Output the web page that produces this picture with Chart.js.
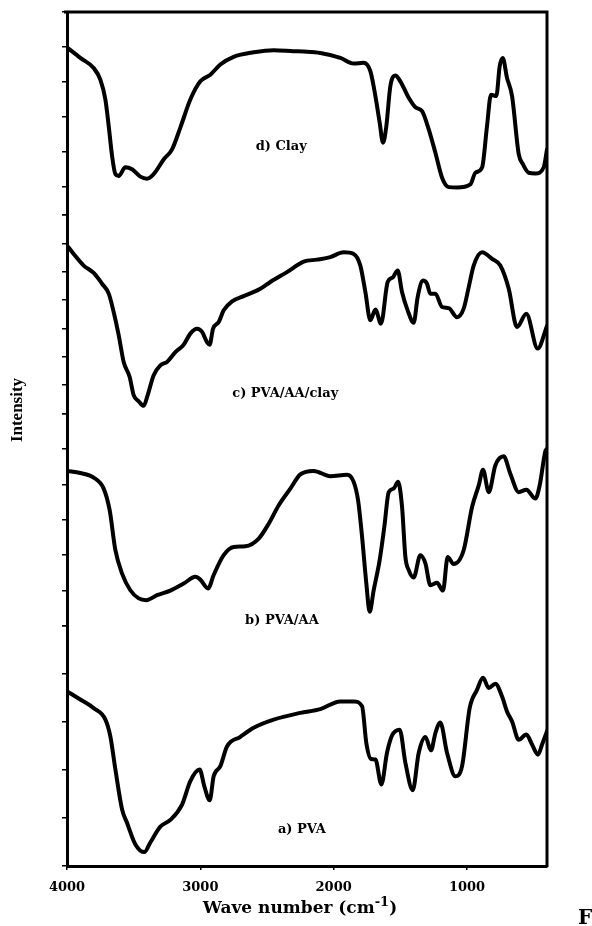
<!DOCTYPE html>
<html>
<head>
<meta charset="utf-8">
<title>FTIR spectra</title>
<script src="https://cdn.jsdelivr.net/npm/chart.js@4.4.1/dist/chart.umd.min.js"></script>
<style>
  html, body { margin: 0; padding: 0; background: #fff; }
  canvas { display: block; }
</style>
</head>
<body>
<canvas id="ftir" width="592" height="926"></canvas>
<script>
// Wavenumber axis ticks (cm-1)
const waveTicks = [4000, 3000, 2000, 1000];

// d) Clay
const clayWave  = [4000, 3900, 3800, 3750, 3712, 3687, 3662, 3637, 3612, 3562, 3512, 3450, 3400, 3350, 3275, 3212, 3150, 3075, 3000, 2925, 2850, 2750, 2600, 2450, 2300, 2225, 2100, 1950, 1850, 1775, 1725, 1687, 1655, 1630, 1605, 1575, 1537, 1500, 1437, 1387, 1337, 1287, 1237, 1187, 1137, 1075, 975, 937, 887, 850, 820, 780, 755, 732, 700, 662, 612, 580, 537, 487, 425, 400];
const clayLevel = [4.99, 4.69, 4.40, 4.07, 3.50, 2.74, 1.89, 1.37, 1.32, 1.57, 1.51, 1.30, 1.24, 1.37, 1.79, 2.08, 2.70, 3.50, 4.02, 4.21, 4.50, 4.72, 4.85, 4.91, 4.88, 4.87, 4.83, 4.69, 4.53, 4.55, 4.31, 3.60, 2.84, 2.27, 2.74, 3.88, 4.19, 4.02, 3.55, 3.28, 3.17, 2.65, 1.98, 1.27, 1.00, 0.99, 1.08, 1.41, 1.56, 2.74, 3.64, 3.60, 4.45, 4.69, 4.12, 3.60, 1.94, 1.65, 1.41, 1.39, 1.56, 2.08];

// c) PVA/AA/clay
const compositeWave  = [4000, 3950, 3875, 3800, 3737, 3687, 3650, 3612, 3575, 3530, 3500, 3462, 3425, 3395, 3350, 3300, 3250, 3187, 3125, 3075, 3025, 2987, 2950, 2930, 2905, 2862, 2825, 2762, 2675, 2550, 2475, 2350, 2225, 2125, 2025, 1925, 1850, 1800, 1762, 1725, 1687, 1645, 1595, 1555, 1520, 1487, 1445, 1400, 1370, 1330, 1300, 1275, 1237, 1187, 1137, 1075, 1025, 987, 950, 887, 812, 750, 687, 625, 555, 470, 400];
const compositeLevel = [5.93, 5.63, 5.22, 4.96, 4.58, 4.23, 3.58, 2.76, 1.82, 1.29, 0.65, 0.43, 0.27, 0.65, 1.35, 1.70, 1.82, 2.17, 2.43, 2.82, 2.99, 2.88, 2.52, 2.43, 2.99, 3.23, 3.64, 3.96, 4.14, 4.40, 4.64, 4.99, 5.36, 5.43, 5.52, 5.69, 5.63, 5.22, 4.28, 3.29, 3.67, 3.17, 4.64, 4.81, 5.05, 4.28, 3.64, 3.20, 4.11, 4.69, 4.58, 4.23, 4.23, 3.76, 3.72, 3.40, 3.70, 4.46, 5.22, 5.69, 5.46, 5.22, 4.40, 3.05, 3.52, 2.29, 3.09];

// b) PVA/AA
const copolymerWave  = [4000, 3900, 3800, 3725, 3680, 3637, 3587, 3525, 3462, 3405, 3325, 3225, 3125, 3037, 3000, 2942, 2900, 2825, 2750, 2662, 2562, 2487, 2412, 2325, 2250, 2150, 2025, 1900, 1850, 1817, 1787, 1755, 1730, 1700, 1655, 1620, 1587, 1550, 1517, 1487, 1462, 1437, 1400, 1350, 1312, 1275, 1225, 1180, 1145, 1100, 1025, 962, 912, 880, 837, 787, 725, 675, 612, 555, 487, 455, 412, 400];
const copolymerLevel = [4.38, 4.32, 4.19, 3.88, 3.27, 2.14, 1.48, 1.01, 0.78, 0.73, 0.87, 1.00, 1.20, 1.39, 1.31, 1.06, 1.44, 2.00, 2.23, 2.25, 2.47, 2.89, 3.41, 3.88, 4.28, 4.38, 4.23, 4.27, 4.07, 3.55, 2.52, 1.20, 0.40, 1.01, 1.86, 2.80, 3.78, 3.88, 4.07, 3.36, 1.95, 1.58, 1.37, 2.00, 1.77, 1.15, 1.22, 1.00, 1.95, 1.75, 2.14, 3.36, 3.97, 4.41, 3.78, 4.54, 4.79, 4.30, 3.78, 3.85, 3.60, 3.97, 4.94, 5.00];

// a) PVA
const pvaWave  = [4000, 3900, 3800, 3712, 3675, 3637, 3587, 3550, 3487, 3420, 3375, 3300, 3225, 3137, 3075, 3005, 2970, 2930, 2900, 2850, 2800, 2700, 2600, 2450, 2250, 2100, 1950, 1850, 1787, 1755, 1720, 1687, 1642, 1600, 1562, 1505, 1462, 1407, 1362, 1312, 1270, 1237, 1200, 1150, 1087, 1037, 980, 925, 880, 837, 787, 737, 700, 662, 612, 555, 512, 467, 437, 400];
const pvaLevel = [3.64, 3.47, 3.29, 3.05, 2.70, 2.01, 1.18, 0.90, 0.45, 0.29, 0.49, 0.82, 0.96, 1.28, 1.77, 2.01, 1.66, 1.37, 1.87, 2.08, 2.49, 2.69, 2.88, 3.05, 3.19, 3.27, 3.43, 3.43, 3.33, 2.56, 2.23, 2.22, 1.70, 2.36, 2.72, 2.84, 2.15, 1.58, 2.36, 2.69, 2.41, 2.77, 2.99, 2.36, 1.87, 2.08, 3.29, 3.67, 3.92, 3.71, 3.80, 3.53, 3.22, 3.01, 2.63, 2.74, 2.53, 2.32, 2.53, 2.81];

// Panel captions and where they sit (wavenumber, level within the panel)
const panelLabels = ['d) Clay', 'c) PVA/AA/clay', 'b) PVA/AA', 'a) PVA'];
const labelWave   = [2393, 2363, 2388, 2238];
const labelLevel  = [2.16, 0.70, 0.15, 0.76];

// Intensity range of each stacked panel, top to bottom
const panelMin = [0.2, 0, 0, 0];
const panelMax = [6, 7, 6, 5];

const axisIds = ['yClay', 'yComposite', 'yCopolymer', 'yPva'];
const SERIF = '"DejaVu Serif", "Liberation Serif", serif';

const toPoints = (waves, levels) => waves.map((w, i) => ({ x: w, y: levels[i] }));

function panelAxis(i, layoutWeight, share) {
  return {
    type: 'linear',
    position: 'left',
    stack: 'panels',
    stackWeight: share,
    weight: layoutWeight,
    min: panelMin[i],
    max: panelMax[i],
    ticks: { display: false, stepSize: 1 },
    grid: { drawOnChartArea: false, drawTicks: true, tickLength: 5, color: '#000', lineWidth: 1.5 },
    border: { display: true, color: '#000', width: 3 },
    afterFit(scale) { scale.width = 10; }
  };
}

function spectrum(waves, levels, axis) {
  return {
    data: toPoints(waves, levels),
    yAxisID: axis,
    borderColor: '#000',
    borderWidth: 4,
    pointRadius: 0,
    fill: false,
    cubicInterpolationMode: 'monotone',
    borderJoinStyle: 'round',
    borderCapStyle: 'round'
  };
}

// Frame top/right edges, panel captions and axis titles
const decorations = {
  id: 'decorations',
  beforeDatasetsDraw(chart) {
    const { ctx, chartArea: a } = chart;
    ctx.save();
    ctx.strokeStyle = '#000';
    ctx.lineWidth = 3;
    ctx.beginPath();
    ctx.moveTo(a.left - 3, a.top);
    ctx.lineTo(a.right, a.top);
    ctx.lineTo(a.right, a.bottom + 1);
    ctx.stroke();
    ctx.restore();
  },
  afterDatasetsDraw(chart) {
    const { ctx, chartArea: a } = chart;
    const xs = chart.scales.x;
    ctx.save();
    ctx.fillStyle = '#000';
    ctx.textAlign = 'center';
    ctx.textBaseline = 'middle';
    ctx.font = 'bold 13px ' + SERIF;
    panelLabels.forEach((text, i) => {
      ctx.fillText(text, xs.getPixelForValue(labelWave[i]), chart.scales[axisIds[i]].getPixelForValue(labelLevel[i]));
    });

    // x title with a raised exponent
    const main = 'bold 17px ' + SERIF;
    const sup = 'bold 13px ' + SERIF;
    const head = 'Wave number (cm', exp = '-1', tail = ')';
    ctx.font = main; const wHead = ctx.measureText(head).width; const wTail = ctx.measureText(tail).width;
    ctx.font = sup; const wExp = ctx.measureText(exp).width;
    const total = wHead + wExp + wTail;
    let x = chart.width / 2 + 4 - total / 2;
    const base = chart.height - 13;
    ctx.textAlign = 'left';
    ctx.textBaseline = 'alphabetic';
    ctx.font = main; ctx.fillText(head, x, base); x += wHead;
    ctx.font = sup; ctx.fillText(exp, x, base - 7); x += wExp;
    ctx.font = main; ctx.fillText(tail, x, base);

    // y title
    ctx.save();
    ctx.translate(18, a.top + 398);
    ctx.rotate(-Math.PI / 2);
    ctx.textAlign = 'center';
    ctx.textBaseline = 'middle';
    ctx.font = 'bold 17px "Liberation Serif", serif';
    ctx.fillText('Intensity', 0, 0);
    ctx.restore();

    ctx.font = 'bold 20px ' + SERIF;
    ctx.fillText('F', 578, chart.height - 2);
    ctx.restore();
  }
};

new Chart(document.getElementById('ftir'), {
  type: 'line',
  data: {
    datasets: [
      spectrum(clayWave, clayLevel, 'yClay'),
      spectrum(compositeWave, compositeLevel, 'yComposite'),
      spectrum(copolymerWave, copolymerLevel, 'yCopolymer'),
      spectrum(pvaWave, pvaLevel, 'yPva')
    ]
  },
  options: {
    responsive: false,
    animation: false,
    events: [],
    layout: { padding: { left: 57, right: 45, top: 12, bottom: 0 } },
    plugins: { legend: { display: false }, tooltip: { enabled: false } },
    scales: {
      x: {
        type: 'linear',
        position: 'bottom',
        reverse: true,
        min: 400,
        max: 4000,
        afterBuildTicks(scale) { scale.ticks = waveTicks.map(v => ({ value: v })); },
        afterFit(scale) { scale.height = 60; },
        border: { display: true, color: '#000', width: 3 },
        grid: { drawOnChartArea: false, drawTicks: true, tickLength: 4, color: '#000', lineWidth: 1.5 },
        ticks: {
          color: '#000',
          autoSkip: false,
          maxRotation: 0,
          padding: 10,
          font: { family: SERIF, weight: 'bold', size: 13 },
          callback: v => String(v)
        }
      },
      yClay: panelAxis(0, 4, 203.6),
      yComposite: panelAxis(1, 3, 198.8),
      yCopolymer: panelAxis(2, 2, 213),
      yPva: panelAxis(3, 1, 240.5)
    }
  },
  plugins: [decorations]
});
</script>
</body>
</html>
